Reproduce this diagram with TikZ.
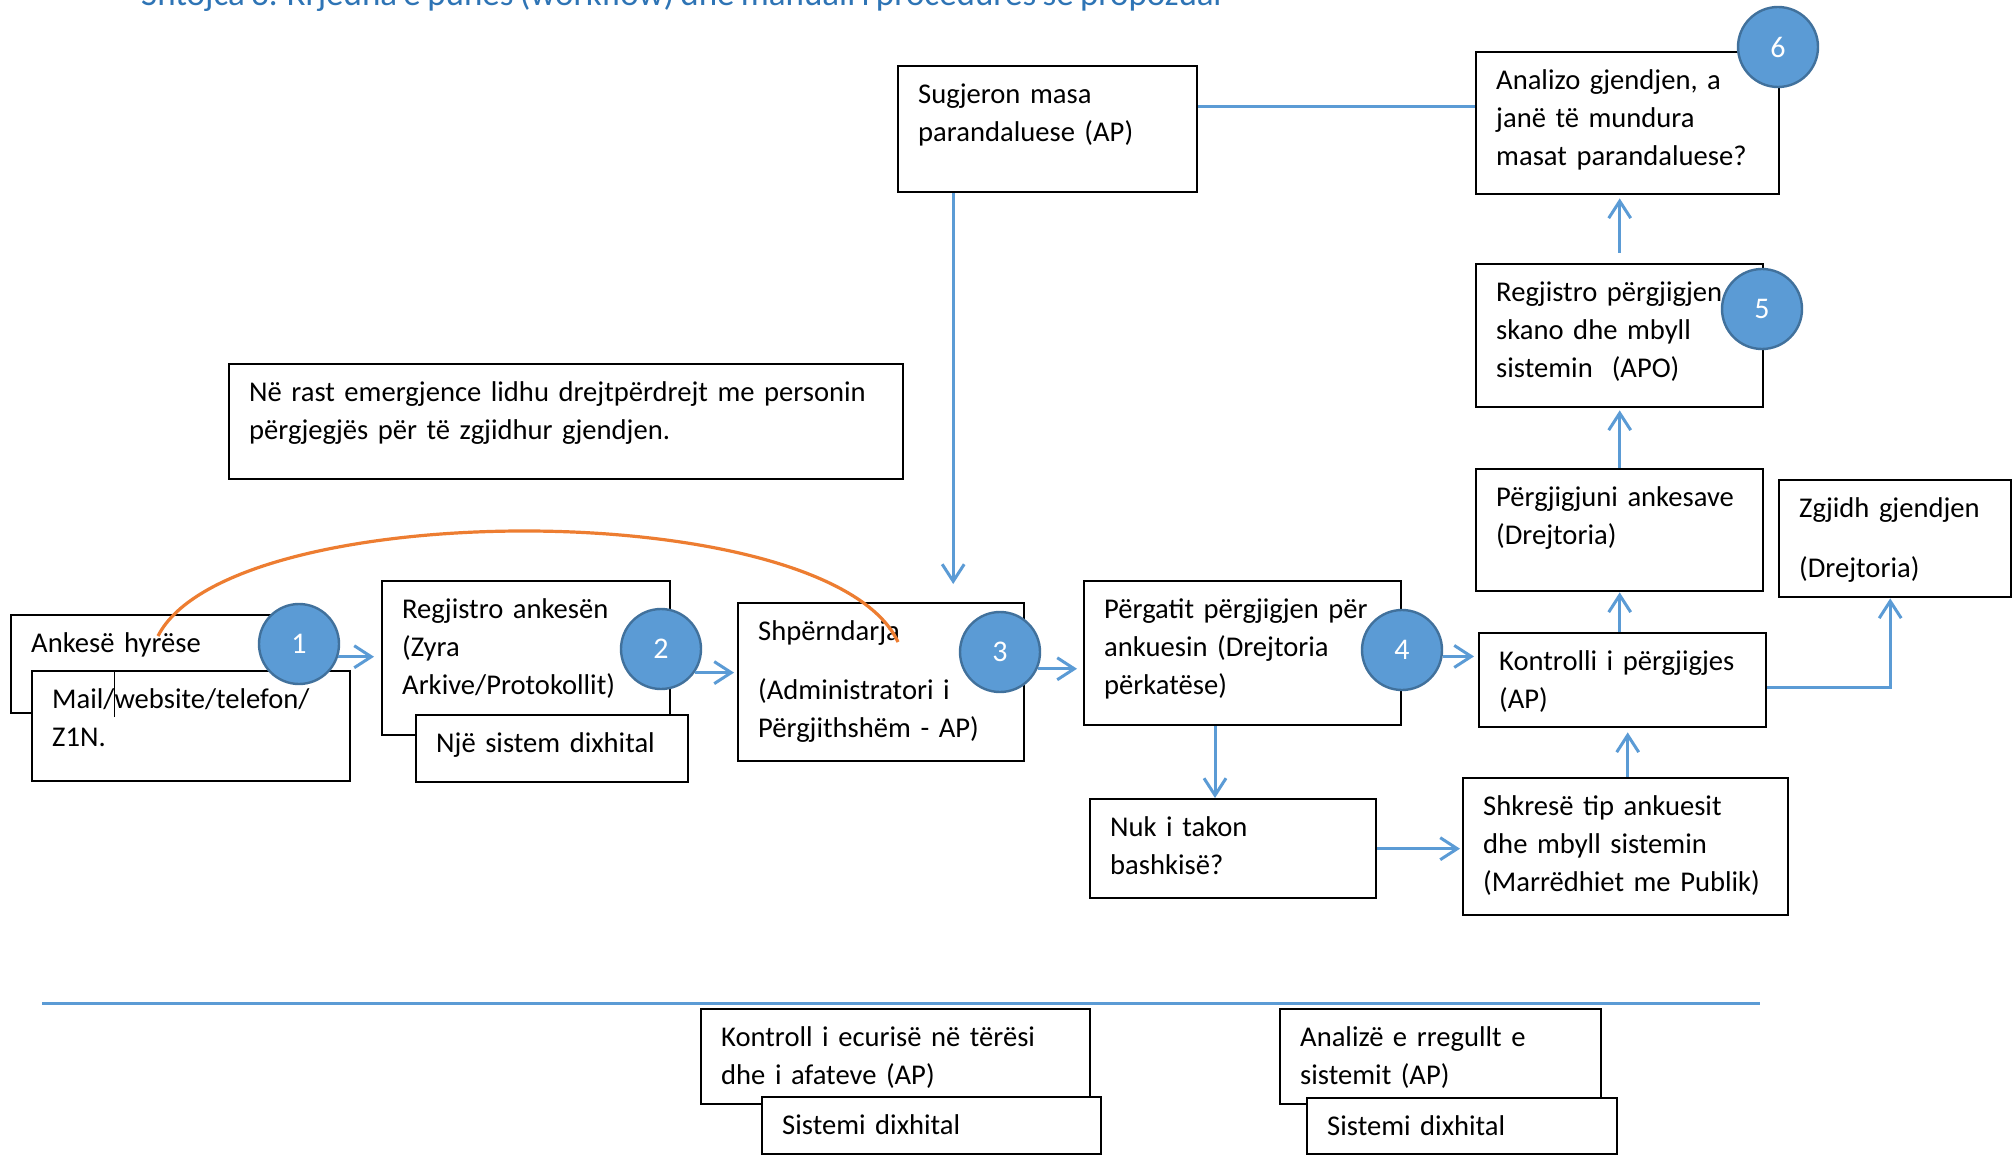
\documentclass[tikz,border=0pt]{standalone}
\usepackage{fontspec}
\setmainfont[WordSpace=0.8]{Carlito}
\usetikzlibrary{arrows.meta,backgrounds}
\definecolor{cblue}{HTML}{5B9BD5}
\definecolor{cdark}{HTML}{41719C}
\definecolor{corange}{HTML}{ED7D31}
\definecolor{ctitle}{HTML}{2E74B5}
\newcommand\bodyfont{\fontsize{28.6}{38}\selectfont}
\newcommand\numfont{\fontsize{30}{34}\selectfont}
\tikzset{
  bx/.style={draw=black, fill=white, line width=2.4pt, inner sep=0pt, anchor=north west},
  txt/.style={anchor=north west, inner sep=0pt, text width=800pt, align=left, font=\bodyfont},
  circ/.style={circle, fill=cblue, draw=cdark, line width=2.4pt, minimum size=80pt, inner sep=0pt, text=white, font=\numfont},
  arr/.style={draw=cblue, line width=3pt, -{Straight Barb[length=17pt,width=22pt]}},
  con/.style={draw=cblue, line width=3pt},
  orangeline/.style={draw=corange, line width=3.2pt},
}
\newcommand\bxt[6]{%
  \node[bx, minimum width=#4pt, minimum height=#5pt] (b#1) at (#2,#3) {};
  \node[txt] (t#1) at ([xshift=21pt,yshift=-11.4pt]b#1.north west) {\strut #6};
}
\begin{document}
\begin{tikzpicture}[x=1pt,y=-1pt]
\useasboundingbox (0,0) rectangle (2015,1155);
\clip (0,0) rectangle (2015,1155);

% title (cut off at the top of the picture)
\node[anchor=base west, inner sep=0pt, font=\fontsize{35}{40}\selectfont, text=ctitle] (title) at (141,6)
  {Shtojca 3. Rrjedha e punës (workflow) dhe manuali i procedurës së propozuar};

% boxes
\bxt{A}{10}{614}{310}{98}{Ankesë hyrëse}
\bxt{M}{31}{670}{318}{110}{Mail/\makebox[0pt]{\smash{\rule[-9pt]{1.2pt}{47pt}}}website/telefon/\\Z1N.}
\bxt{R}{381}{580}{288}{154}{Regjistro ankesën\\(Zyra\\Arkive/Protokollit)}
\bxt{NS}{415}{714}{272}{67}{Një sistem dixhital}
\bxt{S}{737}{602}{286}{158}{Shpërndarja\\[21pt](Administratori i\\Përgjithshëm - AP)}
\bxt{P}{1083}{580}{317}{144}{Përgatit përgjigjen për\\ankuesin (Drejtoria\\përkatëse)}
\bxt{N}{1089}{798}{286}{99}{Nuk i takon\\bashkisë?}
\bxt{Sh}{1462}{777}{325}{137}{Shkresë tip ankuesit\\dhe mbyll sistemin\\(Marrëdhiet me Publik)}
\bxt{K}{1478}{632}{287}{94}{Kontrolli i përgjigjes\\(AP)}
\bxt{Pa}{1475}{468}{287}{122}{Përgjigjuni ankesave\\(Drejtoria)}
\bxt{Z}{1778}{479}{232}{117}{Zgjidh gjendjen\\[22pt](Drejtoria)}
\bxt{Rp}{1475}{263}{287}{143}{Regjistro përgjigjen\\skano dhe mbyll\\sistemin\ \ (APO)}
\bxt{An}{1475}{51}{303}{142}{Analizo gjendjen, a\\janë të mundura\\masat parandaluese?}
\bxt{Su}{897}{65}{299}{126}{Sugjeron masa\\parandaluese (AP)}
\bxt{E}{228}{363}{674}{115}{Në rast emergjence lidhu drejtpërdrejt me personin\\përgjegjës për të zgjidhur gjendjen.}
\bxt{Kb}{700}{1008}{389}{95}{Kontroll i ecurisë në tërësi\\dhe i afateve (AP)}
\bxt{SA}{761}{1096}{339}{57}{Sistemi dixhital}
\bxt{Ab}{1279}{1008}{321}{95}{Analizë e rregullt e\\sistemit (AP)}
\bxt{SB}{1306}{1097}{310}{56}{Sistemi dixhital}

% circles
\node[circ] (c1) at (299,644) {1};
\node[circ] (c2) at (661,649) {2};
\node[circ] (c3) at (1000,652) {3};
\node[circ] (c4) at (1402,650) {4};
\node[circ] (c5) at (1762,309) {5};
\node[circ] (c6) at (1778,47) {6};

% connector behind the "Sugjeron" box
\begin{pgfonlayer}{background}
  \fill[white] (0,0) rectangle (2015,1155);
  \coordinate (an1) at ([yshift=17pt]bAn.west);
  \coordinate (sh1) at ([xshift=72pt]bS.north);
  \draw[arr, shorten >=18pt] (an1) -| (sh1);
\end{pgfonlayer}

% connectors
\coordinate (a1) at (c1.342);
\draw[arr, shorten >=7pt] (a1) -- (a1 -| bR.west);
\coordinate (a2) at (c2.325);
\draw[arr, shorten >=3pt] (a2) -- (a2 -| bS.west);
\coordinate (a3) at (c3.336);
\draw[arr, shorten >=6pt] (a3) -- (a3 -| bP.west);
\coordinate (a4) at (c4.351);
\draw[arr, shorten >=4pt] (a4) -- (a4 -| bK.west);
\coordinate (a5) at ([xshift=132pt]bP.south west);
\draw[arr] (a5) -- (a5 |- bN.north);
\draw[arr, shorten >=2pt] (bN.east) -- (bN.east -| bSh.west);
\coordinate (a7) at ([xshift=2pt]bSh.north);
\draw[arr, shorten >=4pt] (a7) -- (a7 |- bK.south);
\coordinate (a8) at ([xshift=-3pt]bK.north);
\draw[arr] (a8) -- (a8 |- bPa.south);
\draw[arr, shorten >=2pt] (bPa.north) -- (bPa.north |- bRp.south);
\draw[arr, shorten <=10pt, shorten >=3pt] (bRp.north) -- (bRp.north |- bAn.south);
\coordinate (a11) at ([yshift=-7pt]bK.east);
\coordinate (z1) at ([xshift=-5pt]bZ.south);
\draw[arr] (a11) -| (z1);

% orange curve
\coordinate (o1) at (158,636);
\coordinate (o2) at (898,642);
\draw[orangeline] (o1) .. controls (230,495) and (830,495) .. (o2);

% separator line
\coordinate (L1) at (42,1003);
\coordinate (L2) at (1760,1003);
\draw[con] (L1) -- (L2);
\end{tikzpicture}
\end{document}
